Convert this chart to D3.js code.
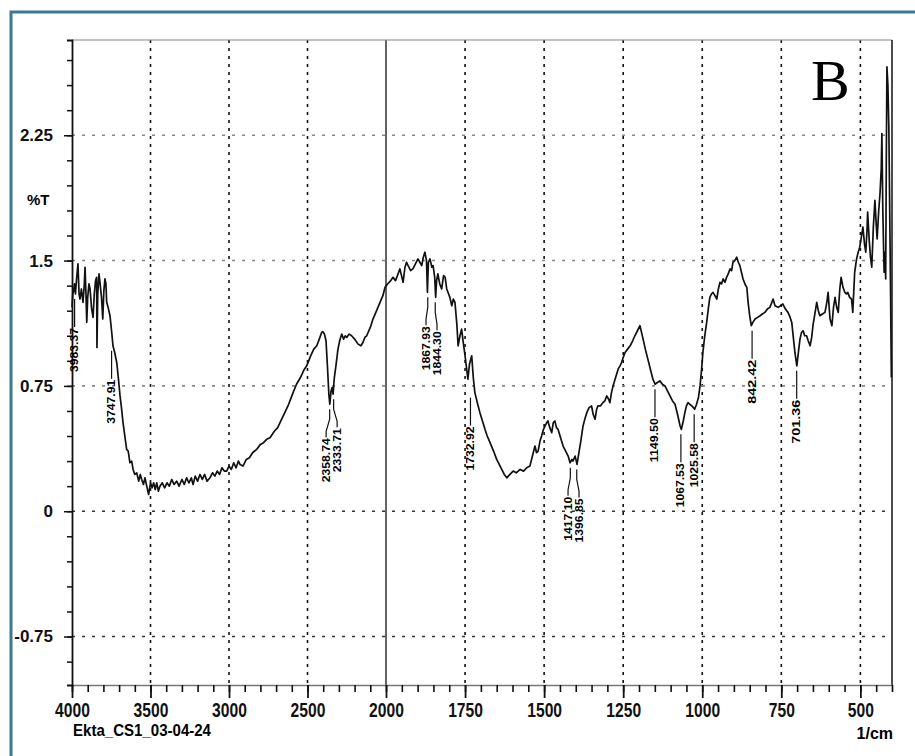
<!DOCTYPE html>
<html>
<head>
<meta charset="utf-8">
<script src="https://cdn.jsdelivr.net/npm/d3@7/dist/d3.min.js"></script>
<style>
  body { margin: 0; background: #fff; }
</style>
</head>
<body>
<div id="graphicContainer"></div>
<script>
// spectrum (1/cm, %T)
const wavenumbers = [
  4000, 3995, 3990, 3984, 3978, 3970, 3962, 3955, 3949, 3940, 3930, 3922, 3917, 3911, 3906, 3900,
  3892, 3885, 3876, 3866, 3858, 3850, 3843, 3841, 3836, 3828, 3822, 3812, 3804, 3797, 3790, 3784,
  3779, 3770, 3758, 3748, 3739, 3728, 3715, 3705, 3694, 3685, 3675, 3665, 3652, 3642, 3631, 3620,
  3611, 3600, 3588, 3575, 3565, 3556, 3545, 3535, 3524, 3512, 3500, 3490, 3480, 3470, 3460, 3450,
  3440, 3425, 3410, 3395, 3380, 3365, 3350, 3333, 3318, 3300, 3285, 3270, 3255, 3240, 3229, 3215,
  3200, 3185, 3170, 3155, 3140, 3121, 3105, 3090, 3075, 3060, 3045, 3030, 3015, 3000, 2985, 2970,
  2955, 2940, 2930, 2911, 2890, 2870, 2850, 2824, 2800, 2780, 2760, 2739, 2710, 2690, 2675, 2650,
  2620, 2592, 2570, 2545, 2520, 2505, 2480, 2460, 2441, 2425, 2410, 2403, 2392, 2382, 2372, 2364,
  2358, 2350, 2343, 2337, 2329, 2319, 2306, 2295, 2282, 2270, 2260, 2250, 2235, 2219, 2200, 2178,
  2160, 2147, 2135, 2123, 2100, 2083, 2060, 2038, 2020, 2006, 1995, 1985, 1978, 1970, 1962, 1956,
  1946, 1940, 1935, 1930, 1922, 1915, 1907, 1899, 1893, 1887, 1882, 1877, 1872, 1869, 1866, 1861,
  1855, 1851, 1846, 1843, 1840, 1836, 1830, 1824, 1818, 1813, 1808, 1804, 1798, 1792, 1787, 1782,
  1776, 1772, 1766, 1761, 1755, 1750, 1745, 1741, 1736, 1729, 1724, 1719, 1710, 1703, 1695, 1687,
  1680, 1671, 1660, 1650, 1642, 1634, 1626, 1618, 1608, 1598, 1588, 1576, 1565, 1555, 1545, 1537,
  1529, 1524, 1519, 1513, 1508, 1502, 1497, 1492, 1488, 1482, 1476, 1471, 1466, 1461, 1456, 1448,
  1440, 1432, 1424, 1418, 1412, 1409, 1402, 1396, 1390, 1384, 1377, 1370, 1365, 1358, 1350, 1345,
  1339, 1334, 1330, 1322, 1314, 1308, 1302, 1296, 1292, 1287, 1282, 1274, 1266, 1260, 1255, 1250,
  1244, 1236, 1228, 1220, 1213, 1205, 1197, 1192, 1187, 1180, 1172, 1164, 1156, 1149, 1142, 1134,
  1126, 1118, 1110, 1102, 1094, 1086, 1077, 1070, 1066, 1060, 1055, 1050, 1045, 1039, 1033, 1028,
  1024, 1018, 1012, 1007, 1002, 998, 992, 986, 981, 976, 971, 966, 960, 954, 949, 944,
  939, 934, 928, 923, 918, 912, 907, 903, 897, 891, 886, 881, 876, 871, 865, 859,
  855, 850, 845, 840, 833, 825, 817, 810, 802, 794, 786, 780, 776, 770, 760, 752,
  745, 737, 729, 722, 717, 712, 707, 701, 696, 691, 686, 681, 676, 670, 665, 659,
  654, 650, 644, 638, 633, 628, 620, 612, 606, 602, 596, 590, 585, 580, 575, 570,
  565, 561, 555, 549, 544, 540, 534, 528, 524, 518, 512, 507, 502, 497, 492, 487,
  483, 479, 477, 472, 468, 464, 459, 454, 450, 447, 442, 438, 434, 432, 429, 425,
  422, 420, 418, 416, 413, 410, 405, 402
];
const transmittance = [
  1.22, 1.30, 1.32, 1.36, 1.30, 1.40, 1.48, 1.30, 1.27, 1.33, 1.25, 1.35, 1.46, 1.30, 1.13, 1.28,
  1.36, 1.33, 1.22, 1.16, 1.30, 1.38, 1.40, 0.98, 1.30, 1.42, 1.37, 1.28, 1.15, 1.32, 1.39, 1.36,
  1.25, 1.22, 1.17, 1.08, 0.99, 0.95, 0.89, 0.80, 0.69, 0.62, 0.53, 0.46, 0.37, 0.36, 0.29, 0.30,
  0.25, 0.22, 0.23, 0.18, 0.22, 0.19, 0.16, 0.20, 0.15, 0.10, 0.17, 0.14, 0.17, 0.13, 0.17, 0.12,
  0.15, 0.17, 0.14, 0.17, 0.15, 0.19, 0.16, 0.18, 0.15, 0.19, 0.16, 0.20, 0.17, 0.20, 0.16, 0.21,
  0.18, 0.22, 0.19, 0.22, 0.18, 0.20, 0.23, 0.21, 0.24, 0.22, 0.26, 0.24, 0.24, 0.27, 0.25, 0.29,
  0.26, 0.30, 0.28, 0.27, 0.31, 0.32, 0.35, 0.37, 0.40, 0.41, 0.43, 0.44, 0.48, 0.50, 0.53, 0.58,
  0.64, 0.71, 0.76, 0.80, 0.85, 0.87, 0.93, 0.97, 0.99, 1.03, 1.07, 1.075, 1.06, 1.02, 0.85, 0.70,
  0.64, 0.72, 0.74, 0.70, 0.80, 0.87, 0.97, 1.02, 1.06, 1.03, 1.05, 1.04, 1.06, 1.05, 1.03, 1.00,
  0.99, 1.01, 1.04, 1.05, 1.10, 1.15, 1.20, 1.25, 1.29, 1.34, 1.36, 1.38, 1.40, 1.38, 1.42, 1.45,
  1.37, 1.46, 1.49, 1.47, 1.44, 1.45, 1.48, 1.51, 1.49, 1.47, 1.52, 1.55, 1.50, 1.31, 1.49, 1.51,
  1.46, 1.47, 1.40, 1.28, 1.38, 1.42, 1.36, 1.33, 1.41, 1.40, 1.33, 1.31, 1.28, 1.23, 1.27, 1.25,
  1.12, 0.99, 1.05, 1.09, 1.00, 0.93, 0.85, 0.79, 0.88, 0.93, 0.80, 0.71, 0.64, 0.59, 0.54, 0.49,
  0.45, 0.41, 0.36, 0.31, 0.28, 0.25, 0.22, 0.20, 0.22, 0.24, 0.23, 0.25, 0.24, 0.26, 0.27, 0.33,
  0.39, 0.35, 0.36, 0.42, 0.45, 0.49, 0.51, 0.53, 0.54, 0.50, 0.47, 0.53, 0.54, 0.50, 0.49, 0.44,
  0.39, 0.36, 0.33, 0.29, 0.31, 0.30, 0.33, 0.28, 0.35, 0.42, 0.51, 0.56, 0.59, 0.62, 0.63, 0.58,
  0.55, 0.61, 0.63, 0.63, 0.65, 0.66, 0.69, 0.67, 0.65, 0.71, 0.75, 0.80, 0.85, 0.87, 0.89, 0.92,
  0.95, 0.97, 0.99, 1.02, 1.05, 1.08, 1.11, 1.07, 1.03, 0.97, 0.91, 0.85, 0.79, 0.76, 0.77, 0.78,
  0.76, 0.75, 0.72, 0.69, 0.66, 0.64, 0.57, 0.51, 0.49, 0.54, 0.59, 0.63, 0.65, 0.64, 0.63, 0.62,
  0.61, 0.64, 0.68, 0.75, 0.85, 0.95, 1.05, 1.13, 1.21, 1.28, 1.30, 1.31, 1.29, 1.27, 1.33, 1.37,
  1.36, 1.39, 1.37, 1.40, 1.42, 1.45, 1.44, 1.49, 1.50, 1.52, 1.49, 1.47, 1.43, 1.39, 1.36, 1.34,
  1.25, 1.17, 1.11, 1.13, 1.15, 1.16, 1.17, 1.18, 1.19, 1.21, 1.22, 1.25, 1.27, 1.23, 1.22, 1.23,
  1.24, 1.21, 1.19, 1.16, 1.13, 1.04, 0.95, 0.87, 0.95, 1.03, 1.07, 1.08, 1.05, 1.05, 1.02, 0.99,
  1.04, 1.11, 1.18, 1.25, 1.20, 1.17, 1.18, 1.19, 1.25, 1.31, 1.15, 1.11, 1.22, 1.28, 1.22, 1.19,
  1.33, 1.40, 1.34, 1.31, 1.30, 1.31, 1.28, 1.27, 1.19, 1.43, 1.51, 1.55, 1.58, 1.64, 1.70, 1.60,
  1.55, 1.68, 1.79, 1.62, 1.52, 1.46, 1.70, 1.86, 1.72, 1.63, 1.80, 1.90, 2.05, 2.26, 1.80, 1.43,
  1.55, 1.39, 2.10, 2.66, 2.55, 2.30, 1.40, 0.80
];

// labelled peaks
const peakPositions = [3983.37, 3747.91, 2358.74, 2333.71, 1867.93, 1844.30, 1732.92,
                       1417.10, 1396.85, 1149.50, 1067.53, 1025.58, 842.42, 701.36];

const xTickValues = [4000, 3500, 3000, 2500, 2000, 1750, 1500, 1250, 1000, 750, 500];
const yTickValues = [-0.75, 0, 0.75, 1.5, 2.25];

function renderSpectrum() {

    const width = 915, height = 756;
    const sans = "'Liberation Sans', Arial, sans-serif";
    const svg = d3.select("#graphicContainer").append("svg")
        .attr("width", width)
        .attr("height", height)
        .style("font-family", sans);

    // frame around the whole figure
    svg.append("rect")
        .attr("x", 11).attr("y", 12)
        .attr("width", width).attr("height", height)
        .attr("fill", "none")
        .attr("stroke", "#3a7995")
        .attr("stroke-width", 3);

    // the axis changes scale at 2000 1/cm
    const x = d3.scaleLinear()
        .domain([4000, 2000, 400])
        .range([72, 386, 892]);

    const y = d3.scaleLinear()
        .domain([-1.04, 2.82])
        .range([685, 40]);

    const data = wavenumbers.map((w, i) => ({ w: w, t: transmittance[i] }));

    // grid
    const g = svg.append("g");

    g.selectAll(".vgrid")
        .data(xTickValues.filter(d => d !== 4000))
        .enter().append("line")
        .attr("x1", d => x(d)).attr("x2", d => x(d))
        .attr("y1", y.range()[1]).attr("y2", y.range()[0])
        .attr("stroke", "#111")
        .attr("stroke-width", d => d === 2000 ? 1.3 : 1.6)
        .attr("stroke-dasharray", d => d === 2000 ? null : "3,5");

    g.selectAll(".hgrid")
        .data(yTickValues)
        .enter().append("line")
        .attr("x1", x(4000)).attr("x2", x(400))
        .attr("y1", d => y(d)).attr("y2", d => y(d))
        .attr("stroke", d => d <= 0 ? "#333" : "#888")
        .attr("stroke-width", 1.6)
        .attr("stroke-dasharray", "3,7");

    // top and right frame of the plot
    g.append("line")
        .attr("x1", x(4000)).attr("x2", x(400))
        .attr("y1", y.range()[1]).attr("y2", y.range()[1])
        .attr("stroke", "#888").attr("stroke-width", 1.2);
    g.append("line")
        .attr("x1", x(400)).attr("x2", x(400))
        .attr("y1", y.range()[1]).attr("y2", y.range()[0])
        .attr("stroke", "#111").attr("stroke-width", 1.5);

    // x axis: minor then major ticks
    const minorX = d3.range(4000, 2000, -100).concat(d3.range(2000, 399, -50));
    svg.append("g")
        .attr("transform", `translate(0,${y.range()[0]})`)
        .call(d3.axisBottom(x).tickValues(minorX).tickSize(7).tickFormat(""))
        .call(a => a.select(".domain").attr("stroke", "#777").attr("stroke-width", 1.3))
        .call(a => a.selectAll(".tick line").attr("stroke", "#111").attr("stroke-width", 1.6));

    svg.append("g")
        .attr("transform", `translate(0,${y.range()[0]})`)
        .call(d3.axisBottom(x).tickValues(xTickValues).tickSize(13).tickPadding(5)
            .tickFormat(d3.format("d")))
        .call(a => a.select(".domain").remove())
        .call(a => a.selectAll(".tick line").attr("stroke", "#111").attr("stroke-width", 1.8))
        .call(a => a.selectAll(".tick text")
            .attr("font-family", sans)
            .attr("font-size", 20)
            .attr("font-weight", "bold")
            .attr("fill", "#111")
            .attr("textLength", d => String(d).length * 8.7)
            .attr("lengthAdjust", "spacingAndGlyphs"));

    // y axis: minor then major ticks
    const minorY = d3.range(-0.9, 2.8, 0.15);
    svg.append("g")
        .attr("transform", `translate(${x(4000)},0)`)
        .call(d3.axisLeft(y).tickValues(minorY).tickSize(5).tickFormat(""))
        .call(a => a.select(".domain").attr("stroke", "#111").attr("stroke-width", 1.8))
        .call(a => a.selectAll(".tick line").attr("stroke", "#111").attr("stroke-width", 1.5));

    svg.append("g")
        .attr("transform", `translate(${x(4000)},0)`)
        .call(d3.axisLeft(y).tickValues(yTickValues).tickSize(8).tickPadding(11)
            .tickFormat(d => String(d)))
        .call(a => a.select(".domain").remove())
        .call(a => a.selectAll(".tick line").attr("stroke", "#111").attr("stroke-width", 1.5))
        .call(a => a.selectAll(".tick text")
            .attr("font-family", sans)
            .attr("font-size", 17)
            .attr("font-weight", "bold")
            .attr("fill", "#111"));

    svg.append("text")
        .attr("x", 27).attr("y", 205)
        .attr("font-size", 15).attr("font-weight", "bold")
        .text("%T");

    // spectrum
    const line = d3.line()
        .x(d => x(d.w))
        .y(d => y(d.t));

    svg.append("path")
        .datum(data)
        .attr("fill", "none")
        .attr("stroke", "#111")
        .attr("stroke-width", 1.7)
        .attr("stroke-linejoin", "round")
        .attr("d", line);

    // peak markers hang below the lowest part of the trace near each peak
    const lowestNear = w => d3.min(data.filter(d => Math.abs(d.w - w) <= 15), d => d.t);

    // spread labels of close peaks apart so they do not overlap
    const marks = peakPositions.map(p => ({ p: p, px: x(p), lx: x(p), py: y(lowestNear(p)) + 5 }))
        .sort((a, b) => a.px - b.px);
    for (let i = 1; i < marks.length; i++) {
        const gap = 11;
        if (marks[i].lx - marks[i - 1].lx < gap) {
            const mid = (marks[i].px + marks[i - 1].px) / 2;
            marks[i - 1].lx = mid - gap / 2;
            marks[i].lx = mid + gap / 2;
        }
    }

    const peaks = svg.append("g").selectAll("g")
        .data(marks)
        .enter().append("g");

    peaks.append("path")
        .attr("fill", "none")
        .attr("stroke", "#111").attr("stroke-width", 1.2)
        .attr("d", d => `M${d.px},${d.py}V${d.py + 10}L${d.lx},${d.py + 22}V${d.py + 28}`);

    peaks.append("text")
        .attr("transform", d => `translate(${d.lx},${d.py + 29}) rotate(-90)`)
        .attr("text-anchor", "end")
        .attr("dy", "0.35em")
        .attr("font-size", 10)
        .attr("font-weight", "bold")
        .attr("textLength", 44)
        .attr("lengthAdjust", "spacingAndGlyphs")
        .text(d => d.p.toFixed(2));

    // captions
    svg.append("text")
        .attr("x", 73).attr("y", 736)
        .attr("font-size", 17).attr("font-weight", "bold")
        .attr("textLength", 138).attr("lengthAdjust", "spacingAndGlyphs")
        .text("Ekta_CS1_03-04-24");

    svg.append("text")
        .attr("x", 893).attr("y", 739)
        .attr("text-anchor", "end")
        .attr("font-size", 16).attr("font-weight", "bold")
        .text("1/cm");

    svg.append("text")
        .attr("x", 811).attr("y", 100)
        .style("font-family", "'Liberation Serif', 'Times New Roman', serif")
        .attr("font-size", 58)
        .text("B");
}

renderSpectrum();
</script>
</body>
</html>
